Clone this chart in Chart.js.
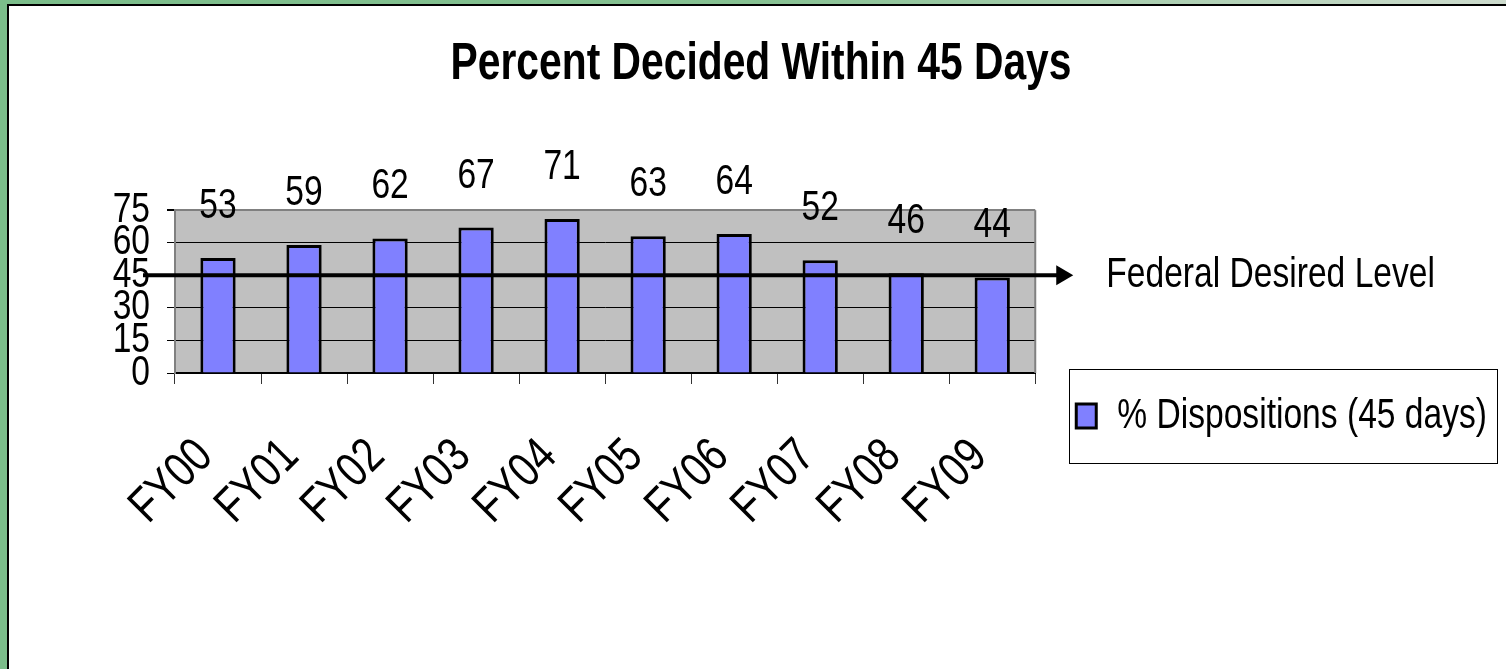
<!DOCTYPE html>
<html><head><meta charset="utf-8">
<script src="https://cdn.jsdelivr.net/npm/chart.js@4.4.1/dist/chart.umd.min.js"></script>
<style>
html,body{margin:0;padding:0;width:1506px;height:669px;overflow:hidden;background:linear-gradient(to right,#7bbd8a 0%,#86c192 50%,#cddbcd 100%);}
#panel{position:absolute;left:7px;top:4px;right:0;bottom:0;background:#fff;border-left:2px solid #000;border-top:2px solid #000;}
#wrap{position:absolute;left:0;top:0;width:1497px;height:663px;}
</style></head>
<body><div id="panel"><div id="wrap"><canvas id="c"></canvas></div></div>
<script>
const categories = ['FY00','FY01','FY02','FY03','FY04','FY05','FY06','FY07','FY08','FY09'];
const dispositions = [53,59,62,67,71,63,64,52,46,44];
const yTicks = [0,15,30,45,60,75];
const federalLevel = 45;
const titleText = 'Percent Decided Within 45 Days';
const seriesLabel = '% Dispositions (45 days)';
const referenceLabel = 'Federal Desired Level';

const FAM = "'Liberation Sans', Arial, sans-serif";

// The original uses a horizontally condensed face: draw text squeezed horizontally.
const SX = 0.8;
(function () {
  const P = CanvasRenderingContext2D.prototype;
  const _fill = P.fillText, _measure = P.measureText;
  P.fillText = function (t, x, y, mw) {
    this.save();
    this.translate(x, y);
    this.scale(SX, 1);
    if (mw !== undefined && mw !== null && isFinite(mw)) _fill.call(this, t, 0, 0, mw / SX);
    else _fill.call(this, t, 0, 0);
    this.restore();
  };
  P.measureText = function (t) {
    const m = _measure.call(this, t);
    return {
      width: m.width * SX,
      actualBoundingBoxLeft: m.actualBoundingBoxLeft * SX,
      actualBoundingBoxRight: m.actualBoundingBoxRight * SX,
      actualBoundingBoxAscent: m.actualBoundingBoxAscent,
      actualBoundingBoxDescent: m.actualBoundingBoxDescent,
      fontBoundingBoxAscent: m.fontBoundingBoxAscent,
      fontBoundingBoxDescent: m.fontBoundingBoxDescent
    };
  };
})();

const plotBg = {
  id: 'plotBg',
  afterLayout(chart) {
    // let the rotated category labels run below the axis box without being clipped
    chart.scales.x.bottom = chart.height;
  },
  beforeDraw(chart) {
    const {ctx, chartArea: a} = chart;
    ctx.save();
    ctx.fillStyle = '#c0c0c0';
    ctx.fillRect(a.left, a.top, a.right - a.left, a.bottom - a.top);
    ctx.restore();
  },
  beforeDatasetsDraw(chart) {
    const {ctx, chartArea: a} = chart;
    ctx.save();
    ctx.strokeStyle = '#808080';
    ctx.lineWidth = 2;
    ctx.beginPath();
    ctx.moveTo(a.right, a.top);
    ctx.lineTo(a.right, a.bottom);
    ctx.stroke();
    ctx.restore();
  }
};

const overlay = {
  id: 'overlay',
  afterDatasetsDraw(chart) {
    const {ctx, chartArea: a} = chart;
    const ys = chart.scales.y;
    const y = ys.getPixelForValue(federalLevel);
    ctx.save();
    const x0 = a.left - 32, tip = a.right + 38;
    ctx.strokeStyle = '#000';
    ctx.fillStyle = '#000';
    ctx.lineWidth = 4;
    ctx.beginPath();
    ctx.moveTo(x0, y);
    ctx.lineTo(tip - 16, y);
    ctx.stroke();
    ctx.beginPath();
    ctx.moveTo(tip - 17, y - 10);
    ctx.lineTo(tip, y);
    ctx.lineTo(tip - 17, y + 10);
    ctx.closePath();
    ctx.fill();
    ctx.font = '42px ' + FAM;
    ctx.textAlign = 'left';
    ctx.textBaseline = 'middle';
    ctx.fillText(referenceLabel, a.right + 71, y);
    const meta = chart.getDatasetMeta(0);
    ctx.font = '42px ' + FAM;
    ctx.textAlign = 'center';
    ctx.textBaseline = 'alphabetic';
    meta.data.forEach((el, i) => {
      ctx.fillText(String(dispositions[i]), el.x, el.y - 40);
    });
    ctx.restore();
  },
  afterDraw(chart) {
    const lg = chart.legend;
    if (!lg || !lg.legendHitBoxes || !lg.legendHitBoxes.length) return;
    const hb = lg.legendHitBoxes[0];
    const ctx = chart.ctx;
    ctx.save();
    ctx.strokeStyle = '#000';
    ctx.lineWidth = 1;
    ctx.strokeRect(Math.round(hb.left - 7) + 0.5, Math.round(hb.top - 26) + 0.5, Math.round(hb.width + 17), Math.round(hb.height + 52));
    ctx.restore();
  }
};

new Chart(document.getElementById('c'), {
  type: 'bar',
  data: {
    labels: categories,
    datasets: [{
      label: seriesLabel,
      data: dispositions,
      backgroundColor: '#8080ff',
      borderColor: '#000',
      borderWidth: 3,
      barPercentage: 0.41,
      categoryPercentage: 1
    }]
  },
  options: {
    responsive: true,
    maintainAspectRatio: false,
    animation: false,
    devicePixelRatio: 1,
    layout: { padding: { left: 16, right: 9, top: 0, bottom: 191 } },
    plugins: {
      title: {
        display: true,
        text: titleText,
        color: '#000',
        font: { family: FAM, size: 51, weight: 'bold', lineHeight: 1.2 },
        padding: { top: 28, bottom: 115 }
      },
      legend: {
        display: true,
        position: 'right',
        align: 'end',
        maxWidth: 800,
        labels: {
          boxWidth: 20,
          boxHeight: 24,
          padding: 41,
          color: '#000',
          font: { family: FAM, size: 42 }
        }
      },
      tooltip: { enabled: false }
    },
    scales: {
      x: {
        type: 'category',
        offset: true,
        grid: { offset: true, drawOnChartArea: false, drawTicks: true, tickLength: 11, color: '#333', lineWidth: 1 },
        border: { display: true, color: '#000', width: 2 },
        ticks: { minRotation: 45, maxRotation: 45, autoSkip: false, padding: 44, labelOffset: -13, color: '#000', font: { family: FAM, size: 49 } },
        afterFit(s) { s.height = 105; }
      },
      y: {
        min: 0, max: 75,
        afterBuildTicks(s) { s.ticks = yTicks.map(v => ({ value: v })); },
        grid: {
          color: c => (c.tick && c.tick.value === 75) ? '#808080' : '#000',
          lineWidth: c => (c.tick && c.tick.value === 75) ? 2 : 1,
          tickColor: '#000',
          tickLength: 8,
          drawTicks: true
        },
        border: { display: true, color: '#808080', width: 2 },
        ticks: { autoSkip: false, padding: 17, color: '#000', font: { family: FAM, size: 42, lineHeight: 1 } },
        afterFit(s) { s.width = 150; }
      }
    }
  },
  plugins: [plotBg, overlay]
});
</script>
</body></html>
